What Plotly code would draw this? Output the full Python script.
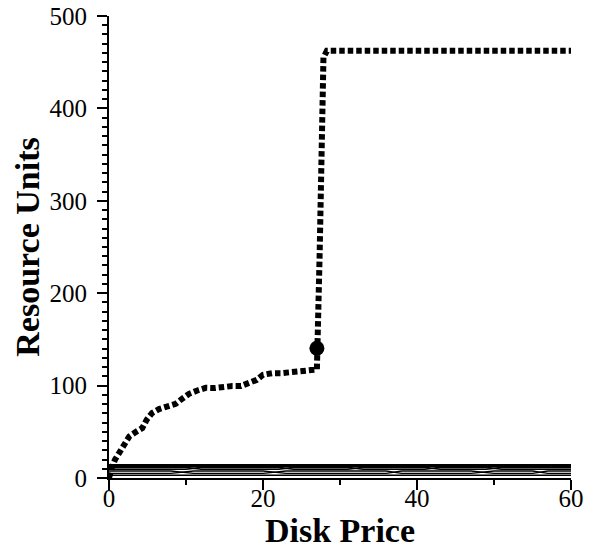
import plotly.graph_objects as go

# Curva punteada principal (precio del disco vs unidades de recurso)
price = [0.0, 0.1, 0.35, 0.78, 1.34, 1.95, 2.64, 3.46, 4.33, 4.89, 5.58, 6.49, 7.62,
         8.66, 9.44, 10.39, 11.47, 12.56, 13.68, 14.85, 16.0, 17.14, 18.3, 19.2,
         20.0, 21.2, 22.4, 23.6, 24.8, 25.9, 27.0, 27.35, 27.7, 27.85, 28.3, 60.0]
units = [0.0, 3.5, 10.8, 19.8, 28.4, 37.1, 45.0, 49.7, 54.1, 63.0, 70.3, 74.6, 78.2,
         80.3, 85.4, 91.1, 94.7, 97.6, 97.3, 99.0, 99.5, 99.5, 102.7, 106.3,
         111.7, 113.5, 113.5, 114.2, 114.9, 116.8, 117.4, 240.0, 365.0, 455.0, 462.3, 462.3]

# Punto destacado
pt_price = [27.0]
pt_units = [140.5]

# Curvas inferiores casi planas
low_x = [0, 10, 12, 22, 24, 31, 33, 41, 43, 49, 51, 60]
low_a = [13.5, 13.5, 13.5, 13.5, 13.5, 13.5, 13.5, 13.5, 13.5, 13.5, 13.5, 13.5]
low_b = [11.5, 11.5, 9.5, 9.5, 11.5, 11.5, 9.5, 9.5, 11.5, 11.5, 9.5, 9.5]
low_c = [9.5, 9.5, 11.5, 11.5, 9.5, 9.5, 11.5, 11.5, 9.5, 9.5, 11.5, 11.5]
low_x2 = [0, 8, 11, 20, 23, 36, 38, 47, 50, 55, 57, 60]
low_d = [7.5, 7.5, 5.0, 5.0, 7.5, 7.5, 5.0, 5.0, 7.5, 7.5, 5.0, 5.0]
low_e = [5.0, 5.0, 7.5, 7.5, 5.0, 5.0, 7.5, 7.5, 5.0, 5.0, 7.5, 7.5]
low_f = [3.0, 3.0, 3.0, 3.0, 2.5, 2.5, 3.0, 3.0, 2.5, 2.5, 3.0, 3.0]

fig = go.Figure()

for xs, ys, w in [(low_x, low_a, 3), (low_x, low_b, 1.6), (low_x, low_c, 1.6),
                  (low_x2, low_d, 1.4), (low_x2, low_e, 1.4), (low_x2, low_f, 1.4)]:
    fig.add_trace(go.Scatter(x=xs, y=ys, mode='lines',
                             line=dict(color='black', width=w),
                             hoverinfo='skip', showlegend=False))

fig.add_trace(go.Scatter(x=price, y=units, mode='lines',
                         line=dict(color='black', width=6, dash='5.5px,3px'),
                         showlegend=False))

fig.add_trace(go.Scatter(x=pt_price, y=pt_units, mode='markers',
                         marker=dict(color='black', size=15),
                         showlegend=False))

serif = 'Liberation Serif'
fig.update_layout(
    width=594, height=554,
    margin=dict(l=109, r=23, t=16, b=76),
    plot_bgcolor='white', paper_bgcolor='white',
    font=dict(family=serif, color='black', size=25),
    xaxis=dict(range=[0, 60], tickvals=[0, 20, 40, 60], automargin=False,
               ticks='outside', ticklen=10, tickwidth=1.5, tickcolor='black',
               ticklabelstandoff=-13, ticklabeloverflow='allow',
               minor=dict(tickvals=[10, 30, 50], ticks='outside', ticklen=5,
                          tickwidth=1.5, tickcolor='black'),
               showline=True, linecolor='black', linewidth=2,
               showgrid=False, zeroline=False,
               title=dict(text='<b>Disk Price</b>', font=dict(size=34), standoff=2)),
    yaxis=dict(range=[0, 500], tickvals=[0, 100, 200, 300, 400, 500], automargin=False,
               ticks='outside', ticklen=10, tickwidth=1.5, tickcolor='black',
               ticklabelstandoff=5, ticklabeloverflow='allow',
               minor=dict(dtick=10, ticks='outside', ticklen=5,
                          tickwidth=1.5, tickcolor='black'),
               showline=True, linecolor='black', linewidth=2,
               showgrid=False, zeroline=False,
               title=dict(text='<b>Resource Units</b>', font=dict(size=34), standoff=0)),
)

# sin el margen por defecto del body, la figura ocupa toda la ventana
fig.write_html("out.html", config={'displayModeBar': False},
               post_script="document.body.style.margin = '0';")
